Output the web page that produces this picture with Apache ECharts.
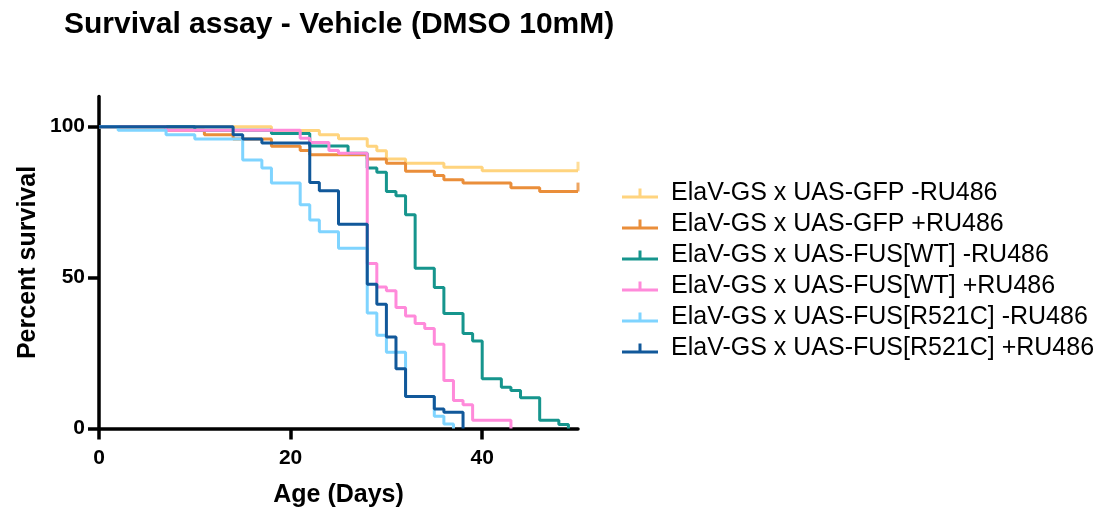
<!DOCTYPE html>
<html>
<head>
<meta charset="utf-8">
<script src="https://cdn.jsdelivr.net/npm/echarts@6/dist/echarts.min.js"></script>
<style>
  html, body { margin: 0; padding: 0; background: #ffffff; }
  #chart { width: 1116px; height: 513px; }
</style>
</head>
<body>
<div id="chart"></div>
<script>
// Kaplan-Meier survival, [day, percent surviving]; each value holds until the next day listed.
const gfpMinusRu = [[0,100],[18,98.7],[23,97.3],[25,96.0],[28,93.5],[29,92.0],[30,89.3],[32,87.9],[36,86.6],[40,85.4],[50,85.4]];
const gfpPlusRu = [[0,100],[7,98.8],[11,97.3],[14,95.9],[18,93.5],[21,92.1],[22,90.7],[28,89.3],[30,87.9],[32,85.2],[35,83.8],[36,82.4],[38,81.3],[43,79.8],[46,78.5],[50,78.5]];
const wtMinusRu = [[0,100],[10,98.8],[18,97.7],[22,93.6],[26,91.2],[28,86.3],[29,84.9],[30,78.5],[31,77.1],[32,70.8],[33,53.1],[35,46.7],[36,38.1],[38,31.5],[39,29.0],[40,16.5],[42,13.7],[43,12.6],[44,10.2],[46,2.7],[48,1.3],[49,0]];
const wtPlusRu = [[0,100],[7,98.8],[21,96.2],[22,94.8],[24,92.1],[25,91.2],[28,54.7],[29,46.9],[30,45.6],[31,40.1],[32,37.3],[33,34.8],[34,33.1],[35,27.9],[36,15.9],[37,9.3],[38,7.9],[39,2.7],[43,0]];
const r521cMinusRu = [[0,100],[2,98.8],[7,97.3],[10,95.9],[15,89.0],[17,86.3],[18,81.3],[21,74.1],[22,69.1],[23,65.2],[25,59.7],[28,38.3],[29,30.9],[30,25.3],[32,10.6],[35,4.1],[36,1.5],[37,0]];
const r521cPlusRu = [[0,100],[14,97.3],[15,95.9],[17,94.6],[22,81.5],[23,78.8],[25,67.7],[28,47.8],[29,41.2],[30,30.3],[31,19.8],[32,10.6],[35,6.5],[36,5.4],[38,0]];

// Censored subjects at the end of follow-up
const gfpMinusCensored = [[50,85.4]];
const gfpPlusCensored = [[50,78.5]];

const groupNames = [
  'ElaV-GS x UAS-GFP -RU486',
  'ElaV-GS x UAS-GFP +RU486',
  'ElaV-GS x UAS-FUS[WT] -RU486',
  'ElaV-GS x UAS-FUS[WT] +RU486',
  'ElaV-GS x UAS-FUS[R521C] -RU486',
  'ElaV-GS x UAS-FUS[R521C] +RU486'
];
const groupColors = ['#FFD47E', '#EA8E3A', '#16958D', '#FF8ADA', '#7FD4FF', '#11589A'];
const groupData = [gfpMinusRu, gfpPlusRu, wtMinusRu, wtPlusRu, r521cMinusRu, r521cPlusRu];

const xTicks = [0, 20, 40];
const yTicks = [0, 50, 100];

const FONT = '"Liberation Sans", Arial, Helvetica, sans-serif';

const series = groupNames.map((name, i) => ({
  name: name,
  type: 'line',
  step: 'end',
  data: groupData[i],
  symbol: 'none',
  lineStyle: { color: groupColors[i], width: 3 },
  itemStyle: { color: groupColors[i] },
  emphasis: { disabled: true },
  animation: false
}));

[[gfpMinusCensored, 0], [gfpPlusCensored, 1]].forEach(([pts, i]) => {
  series.push({
    name: groupNames[i] + ' censored',
    type: 'scatter',
    data: pts,
    symbol: 'rect',
    symbolSize: [3, 9],
    symbolOffset: [0, -4.5],
    itemStyle: { color: groupColors[i] },
    silent: true,
    animation: false
  });
});

const chart = echarts.init(document.getElementById('chart'), null, { renderer: 'canvas' });
chart.setOption({
  backgroundColor: '#ffffff',
  textStyle: { fontFamily: FONT },
  title: {
    text: 'Survival assay - Vehicle (DMSO 10mM)',
    left: 59,
    top: 5,
    textStyle: { fontFamily: FONT, fontSize: 30, fontWeight: 'bold', color: '#000' }
  },
  legend: {
    data: groupNames.map((n, i) => ({ name: n, itemStyle: { color: groupColors[i] } })),
    orient: 'vertical',
    left: 617,
    top: 173,
    itemGap: 0,
    itemWidth: 36,
    itemHeight: 10,
    icon: 'path://M0,7 L36,7 L36,10 L0,10 Z M16.5,0 L19.5,0 L19.5,7 L16.5,7 Z',
    selectedMode: false,
    textStyle: { fontFamily: FONT, fontSize: 25, color: '#000', lineHeight: 31, padding: [0, 0, 0, 8] }
  },
  grid: { left: 99, right: 538, top: 96.5, bottom: 84.5, containLabel: false },
  xAxis: {
    type: 'value',
    min: 0,
    max: 50,
    name: 'Age (Days)',
    nameLocation: 'middle',
    nameGap: 54,
    nameTextStyle: { fontFamily: FONT, fontSize: 25, fontWeight: 'bold', color: '#000' },
    axisLine: { show: true, onZero: false, lineStyle: { color: '#000', width: 3.5 } },
    axisTick: { show: true, length: 11, customValues: xTicks, lineStyle: { color: '#000', width: 3.5 } },
    axisLabel: { customValues: xTicks, margin: 19, fontFamily: FONT, fontSize: 21, fontWeight: 'bold', color: '#000' },
    splitLine: { show: false }
  },
  yAxis: {
    type: 'value',
    min: 0,
    max: 110,
    name: 'Percent survival',
    nameLocation: 'middle',
    nameGap: 58,
    nameRotate: 90,
    nameTextStyle: { fontFamily: FONT, fontSize: 25, fontWeight: 'bold', color: '#000' },
    axisLine: { show: true, onZero: false, lineStyle: { color: '#000', width: 3.5 } },
    axisTick: { show: true, length: 11, customValues: yTicks, lineStyle: { color: '#000', width: 3.5 } },
    axisLabel: { customValues: yTicks, margin: 14, fontFamily: FONT, fontSize: 21, fontWeight: 'bold', color: '#000' },
    splitLine: { show: false }
  },
  series: series
});
</script>
</body>
</html>
